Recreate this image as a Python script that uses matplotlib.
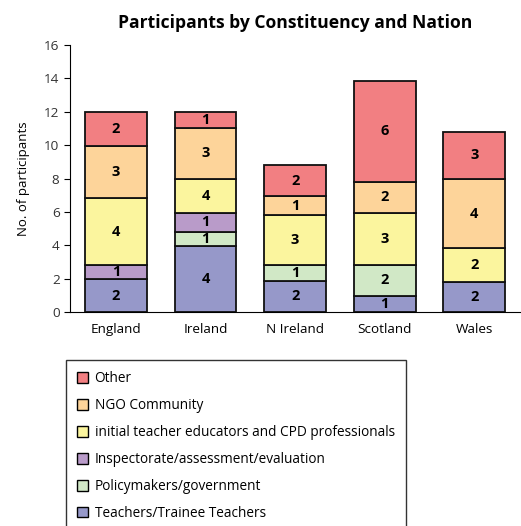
import matplotlib.pyplot as plt
import numpy as np
from matplotlib.patches import Patch

plt.rcParams['font.family'] = ['Open Sans', 'DejaVu Sans']

nations = ['England', 'Ireland', 'N Ireland', 'Scotland', 'Wales']
# stacking order, bottom to top
groups = ['Teachers/Trainee Teachers', 'Policymakers/government',
          'Inspectorate/assessment/evaluation',
          'initial teacher educators and CPD professionals',
          'NGO Community', 'Other']
# segment heights as drawn in the picture
teachers = [1.95, 3.95, 1.88, 0.98, 1.82]
policy = [0, 0.87, 0.94, 1.86, 0]
inspect = [0.87, 1.13, 0, 0, 0]
ite = [4.0, 2.05, 2.98, 3.12, 2.0]
ngo = [3.1, 3.05, 1.14, 1.86, 4.14]
other = [2.08, 0.95, 1.86, 6.0, 2.84]
# numbers printed on the segments
teachers_lbl = [2, 4, 2, 1, 2]
policy_lbl = [0, 1, 1, 2, 0]
inspect_lbl = [1, 1, 0, 0, 0]
ite_lbl = [4, 4, 3, 3, 2]
ngo_lbl = [3, 3, 1, 2, 4]
other_lbl = [2, 1, 2, 6, 3]
colors = ['#9698c9', '#d1e8c6', '#b99bc9', '#fbf59e', '#fdd49a', '#f27f82']

fig = plt.figure(figsize=(5.21, 5.26), dpi=100)
ax = fig.add_axes([70/521, (526-312)/526, 451/521, 267/526])

x = np.arange(len(nations))
bottom = np.zeros(len(nations))
series = [teachers, policy, inspect, ite, ngo, other]
labels = [teachers_lbl, policy_lbl, inspect_lbl, ite_lbl, ngo_lbl, other_lbl]
for vals, lbls, c in zip(series, labels, colors):
    vals = np.array(vals, dtype=float)
    ax.bar(x, vals, 0.69, bottom=bottom, color=c, edgecolor='#111111', linewidth=1.3)
    for xi, v, b, l in zip(x, vals, bottom, lbls):
        if l > 0:
            ax.text(xi, b + v/2, str(l), ha='center', va='center',
                    fontsize=10.5, fontweight='bold')
    bottom += vals

ax.set_xlim(-0.513, 4.52)
ax.set_ylim(0, 16)
ax.set_yticks(range(0, 17, 2))
ax.set_xticks(x)
ax.set_xticklabels(nations, fontsize=9.7)
ax.tick_params(axis='x', length=0, pad=8)
ax.tick_params(axis='y', length=4, labelsize=9.7, labelcolor='#333333', direction='out')
ax.spines['top'].set_visible(False)
ax.spines['right'].set_visible(False)
ax.set_ylabel('No. of participants', fontsize=9.5, labelpad=10)
ax.set_title('Participants by Constituency and Nation', fontsize=12.6,
             fontweight='bold', pad=12)

handles = [Patch(facecolor=c, edgecolor='black', linewidth=1.0) for c in colors[::-1]]
leg = fig.legend(handles, groups[::-1], loc='upper left',
                 bbox_to_anchor=(66/521, 1 - 360/526), borderaxespad=0,
                 frameon=True, fancybox=False, edgecolor='black', fontsize=9.8,
                 handlelength=0.85, handleheight=0.85, handletextpad=0.45,
                 labelspacing=0.88, borderpad=0.8)
leg.get_frame().set_linewidth(1.0)

plt.savefig('out.png', dpi=100)
